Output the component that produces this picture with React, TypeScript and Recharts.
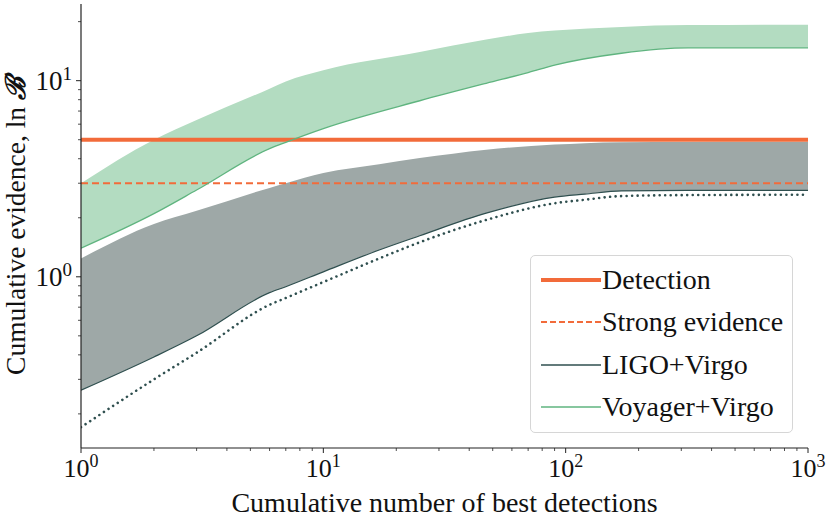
import React from "react";
import { ComposedChart, Area, Line, XAxis, YAxis, ReferenceLine } from "recharts";

// Voyager+Virgo band
const greenX = [1, 2, 3, 6, 7, 10, 25, 47, 70, 90, 170, 320, 1000];
const greenHigh = [3.0, 5.0, 6.3, 9.1, 9.9, 11.3, 14.0, 16.2, 17.5, 18.0, 18.8, 19.2, 19.3];
const greenLow = [1.4, 2.1, 2.77, 4.5, 4.85, 5.7, 7.9, 9.7, 11.0, 12.0, 13.8, 14.7, 14.7];

// LIGO+Virgo band
const grayX = [1, 2, 3, 6, 7, 10, 17, 25, 47, 90, 120, 170, 320, 1000];
const grayHigh = [1.24, 1.86, 2.17, 2.84, 3.0, 3.38, 3.75, 4.03, 4.45, 4.72, 4.8, 4.85, 4.87, 4.88];
const grayLow = [0.264, 0.39, 0.5, 0.83, 0.89, 1.06, 1.37, 1.62, 2.11, 2.55, 2.64, 2.74, 2.76, 2.76];
const grayDotted = [0.171, 0.3, 0.41, 0.72, 0.78, 0.94, 1.24, 1.5, 1.95, 2.37, 2.47, 2.58, 2.61, 2.62];

const detection = 5;
const strongEvidence = 3;

const xTicks = [1, 2, 3, 4, 5, 6, 7, 8, 9, 10, 20, 30, 40, 50, 60, 70, 80, 90, 100, 200, 300, 400, 500, 600, 700, 800, 900, 1000];
const yTicks = [0.2, 0.3, 0.4, 0.5, 0.6, 0.7, 0.8, 0.9, 1, 2, 3, 4, 5, 6, 7, 8, 9, 10, 20];

const greenData = greenX.map((x, i) => ({ x, band: [greenLow[i], greenHigh[i]], low: greenLow[i] }));
const grayData = grayX.map((x, i) => ({ x, band: [grayLow[i], grayHigh[i]], low: grayLow[i], dot: grayDotted[i] }));

const ORANGE = "#f26b3a";
const GREEN_FILL = "#b3dcc1";
const GREEN_LINE = "#5fb47f";
const GRAY_FILL = "#9ea8a7";
const DARK = "#2f4f4f";
const FONT = "Liberation Serif";
const INK = "#111";

const isMajor = (v: number) => {
  const e = Math.log10(v);
  return Math.abs(e - Math.round(e)) < 1e-9;
};

function XTick({ x, y, payload }: any) {
  const v = payload.value;
  const major = isMajor(v);
  return (
    <g>
      <line x1={x} x2={x} y1={y} y2={y + (major ? 5 : 3)} stroke="#222" strokeWidth={major ? 1 : 0.8} />
      {major && (
        <text x={x} y={y + 29} textAnchor="middle" fontFamily={FONT} fontSize={26} fill={INK}>
          10
          <tspan dy={-10} fontSize={18}>{Math.round(Math.log10(v))}</tspan>
        </text>
      )}
    </g>
  );
}

function YTick({ x, y, payload }: any) {
  const v = payload.value;
  const major = isMajor(v);
  return (
    <g>
      <line x1={x} x2={x - (major ? 5 : 3)} y1={y} y2={y} stroke="#222" strokeWidth={major ? 1 : 0.8} />
      {major && (
        <text x={x - 9} y={y + 9} textAnchor="end" fontFamily={FONT} fontSize={27} fill={INK}>
          10
          <tspan dy={-10} fontSize={19}>{Math.round(Math.log10(v))}</tspan>
        </text>
      )}
    </g>
  );
}

function XLabel({ viewBox }: any) {
  const cx = viewBox.x + viewBox.width / 2;
  return (
    <text x={cx} y={512} textAnchor="middle" fontFamily={FONT} fontSize={28} fill={INK}>
      Cumulative number of best detections
    </text>
  );
}

function YLabel({ viewBox }: any) {
  const cy = viewBox.y + viewBox.height / 2;
  return (
    <text
      x={25}
      y={cy}
      transform={`rotate(-90, 25, ${cy})`}
      textAnchor="middle"
      fontFamily={FONT}
      fontSize={27.5}
      fill={INK}
    >
      Cumulative evidence, ln <tspan fontWeight="bold" fontStyle="italic">ℬ</tspan>
    </text>
  );
}

const legendItems = [
  { name: "Detection", color: ORANGE, width: 4, dash: undefined },
  { name: "Strong evidence", color: ORANGE, width: 2, dash: "6 3" },
  { name: "LIGO+Virgo", color: DARK, width: 1.5, dash: undefined },
  { name: "Voyager+Virgo", color: GREEN_LINE, width: 1.5, dash: undefined },
];

function LegendBox() {
  return (
    <div
      style={{
        position: "absolute",
        left: 530,
        top: 255,
        width: 263,
        height: 178,
        boxSizing: "border-box",
        border: "1.5px solid #d6d6d6",
        borderRadius: 5,
        background: "rgba(255,255,255,0.85)",
        fontFamily: FONT,
        fontSize: 28,
        color: INK,
      }}
    >
      {legendItems.map((it, i) => (
        <div key={it.name} style={{ position: "absolute", left: 10, top: 6 + i * 42.3, height: 36, display: "flex", alignItems: "center" }}>
          <svg width={60} height={12} style={{ marginRight: 1 }}>
            <line x1={0} x2={60} y1={6} y2={6} stroke={it.color} strokeWidth={it.width} strokeDasharray={it.dash} />
          </svg>
          <span style={{ whiteSpace: "nowrap", lineHeight: "36px" }}>{it.name}</span>
        </div>
      ))}
    </div>
  );
}

export default function App() {
  return (
    <div style={{ position: "absolute", left: 0, top: 0, width: 830, height: 519, background: "#fff", fontFamily: FONT }}>
      <ComposedChart width={830} height={519} margin={{ top: 4, right: 22, bottom: 0, left: 0 }}>
        <XAxis
          dataKey="x"
          type="number"
          scale="log"
          domain={[1, 1000]}
          allowDataOverflow
          ticks={xTicks}
          interval={0}
          tick={<XTick />}
          tickSize={0}
          tickMargin={0}
          tickLine={false}
          height={71}
          axisLine={{ stroke: "#222", strokeWidth: 1.2 }}
          label={<XLabel />}
        />
        <XAxis
          xAxisId="top"
          orientation="top"
          type="number"
          scale="log"
          domain={[1, 1000]}
          allowDataOverflow
          height={0}
          tick={false}
          tickLine={false}
          axisLine={{ stroke: "#222", strokeWidth: 1.2 }}
        />
        <YAxis
          type="number"
          scale="log"
          domain={[0.134, 24.6]}
          allowDataOverflow
          ticks={yTicks}
          interval={0}
          tick={<YTick />}
          tickSize={0}
          tickMargin={0}
          tickLine={false}
          width={81}
          axisLine={{ stroke: "#222", strokeWidth: 1.2 }}
          label={<YLabel />}
        />
        <YAxis
          yAxisId="right"
          orientation="right"
          type="number"
          scale="log"
          domain={[0.134, 24.6]}
          allowDataOverflow
          width={0}
          tick={false}
          tickLine={false}
          axisLine={{ stroke: "#222", strokeWidth: 1.2 }}
        />
        <Area
          data={greenData}
          dataKey="band"
          type="monotoneX"
          fill={GREEN_FILL}
          fillOpacity={1}
          stroke="none"
          isAnimationActive={false}
        />
        <Area
          data={grayData}
          dataKey="band"
          type="monotoneX"
          fill={GRAY_FILL}
          fillOpacity={1}
          stroke="none"
          isAnimationActive={false}
        />
        <ReferenceLine y={detection} stroke={ORANGE} strokeWidth={4} />
        <ReferenceLine y={strongEvidence} stroke={ORANGE} strokeWidth={2} strokeDasharray="7 4" />
        <Line data={grayData} dataKey="low" type="monotoneX" stroke={DARK} strokeWidth={1.2} dot={false} isAnimationActive={false} />
        <Line
          data={grayData}
          dataKey="dot"
          type="monotoneX"
          stroke={DARK}
          strokeWidth={2.6}
          strokeDasharray="0.01 5.5"
          strokeLinecap="round"
          dot={false}
          isAnimationActive={false}
        />
        <Line data={greenData} dataKey="low" type="monotoneX" stroke={GREEN_LINE} strokeWidth={1.3} dot={false} isAnimationActive={false} />
      </ComposedChart>
      <LegendBox />
    </div>
  );
}
